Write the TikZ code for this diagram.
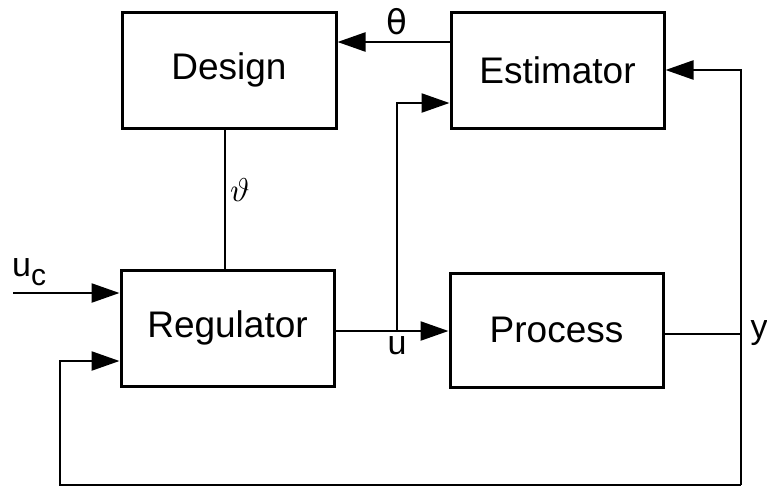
\documentclass[tikz,border=0pt]{standalone}
\usepackage{fontspec}
\setmainfont{Liberation Sans}
\newfontfamily\symfont{DejaVu Sans}
\usetikzlibrary{arrows.meta}
\tikzset{
  blk/.style={draw, line width=3pt, inner sep=0pt},
  conn/.style={line width=2.4pt},
  tip/.style={-{Triangle[length=28pt,width=19pt]}},
  lbl/.style={font=\fontsize{37}{40}\selectfont},
  sym/.style={font=\fontsize{34}{36}\selectfont},
}
\begin{document}
\begin{tikzpicture}[x=1pt,y=-1pt]
\useasboundingbox (0,0) rectangle (767,488);
\fill[white] (0,0) rectangle (767,488);
% boxes
\node[blk, minimum width=214pt, minimum height=116pt] (design) at (229,70) {};
\node[lbl] at (design.center) {Design};
\node[blk, minimum width=213pt, minimum height=116pt] (est) at (557.5,70) {};
\node[lbl] at (est.center) {Estimator};
\node[blk, minimum width=213pt, minimum height=116pt] (reg) at (227.5,328) {};
\node[lbl] at (reg.center) {Regulator};
\node[blk, minimum width=213pt, minimum height=114pt] (proc) at (556.5,330) {};
\node[lbl] at (proc.center) {Process};
% coordinates
\coordinate (ucstart) at (13,293);
\coordinate (br) at (397,331);
\coordinate (brtop) at (397,103);
\coordinate (yr) at (741,334);
\coordinate (ytop) at (741,70);
\coordinate (ybot) at (741,485);
\coordinate (fbl) at (60,485);
\coordinate (fbtop) at (60,361);
% connectors
\draw[conn,tip] (est.west |- 0,42) -- (design.east |- 0,42);
\draw[conn] (design.south -| 225,0) -- (reg.north -| 225,0);
\draw[conn,tip] (ucstart) -- (reg.west |- ucstart);
\draw[conn,tip] (reg.east |- br) -- (proc.west |- br);
\draw[conn,tip] (br) -- (brtop) -- (est.west |- brtop);
\draw[conn] (proc.east |- yr) -- (yr);
\draw[conn,tip] (ybot) -- (ytop) -- (est.east |- ytop);
\draw[conn,tip] (ybot) -- (fbl) -- (fbtop) -- (reg.west |- fbtop);
% labels
\node[sym] (theta) at (397,22) {\symfont θ};
\node (vtheta) at (240,190) {\scalebox{3.3}{$\vartheta$}};
\node[sym, anchor=west, inner sep=0pt] (uc) at (12,272) {u\raisebox{-9pt}{\fontsize{30}{32}\selectfont c}};
\node[sym] (ulab) at (397,346) {u};
\node[sym] (ylab) at (759,333) {y};
\end{tikzpicture}
\end{document}
